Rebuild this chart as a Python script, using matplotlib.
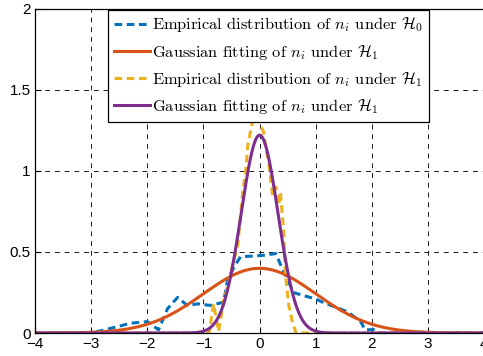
import numpy as np
import matplotlib
matplotlib.use("Agg")
import matplotlib.pyplot as plt

plt.rcParams['mathtext.fontset'] = 'cm'
plt.rcParams['font.family'] = ['Liberation Sans', 'DejaVu Sans']

# empirical distribution of n_i under H0
h0_x = [-4, -3.0, -2.75, -2.3, -2.0, -1.8, -1.64, -1.46, -1.29, -1.1, -0.88, -0.64,
        -0.57, -0.45, -0.34, -0.1, 0.1, 0.29, 0.375, 0.5, 0.6, 0.79, 1.0, 1.12,
        1.35, 1.57, 1.8, 1.88, 2.04, 2.15, 4]
h0_y = [0, 0, 0.02, 0.06, 0.07, 0.02, 0.15, 0.22, 0.17, 0.18, 0.17, 0.19,
        0.33, 0.41, 0.47, 0.475, 0.48, 0.49, 0.42, 0.33, 0.25, 0.23, 0.21, 0.19,
        0.16, 0.13, 0.07, 0.02, 0.02, 0, 0]

# empirical distribution of n_i under H1
h1_x = [-4, -0.9, -0.82, -0.73, -0.64, -0.55, -0.48, -0.39, -0.3, -0.25, -0.21,
        -0.13, -0.05, 0.07, 0.11, 0.16, 0.23, 0.29, 0.34, 0.37, 0.43, 0.46, 0.52,
        0.59, 0.65, 4]
h1_y = [0, 0, 0.18, 0.01, 0.2, 0.31, 0.42, 0.54, 0.87, 0.99, 1.16,
        1.30, 1.34, 1.24, 1.14, 1.06, 0.85, 0.9, 0.79, 0.87, 0.62, 0.36, 0.17,
        0.06, 0, 0]

# Gaussian fit parameters (mean, std)
fit_wide = (0.0, 1.0)
fit_narrow = (0.0, 0.327)

labels = [r'Empirical distribution of $n_i$ under $\mathcal{H}_0$',
          r'Gaussian fitting of $n_i$ under $\mathcal{H}_1$',
          r'Empirical distribution of $n_i$ under $\mathcal{H}_1$',
          r'Gaussian fitting of $n_i$ under $\mathcal{H}_1$']


def gauss(x, mu, sd):
    return np.exp(-0.5 * ((x - mu) / sd) ** 2) / (sd * np.sqrt(2 * np.pi))


xs = np.linspace(-4, 4, 801)

fig = plt.figure(figsize=(4.83, 3.56), dpi=100)
ax = fig.add_axes([0.0725, 0.0646, 0.93, 0.911])

lw = 2.2
ax.plot(h0_x, h0_y, color='#0072BD', lw=lw, ls=(0, (2.5, 1.5)), label=labels[0])
ax.plot(xs, gauss(xs, *fit_wide), color='#D95319', lw=lw, label=labels[1])
ax.plot(h1_x, h1_y, color='#EDB120', lw=lw, ls=(0, (2.5, 1.5)), label=labels[2])
ax.plot(xs, gauss(xs, *fit_narrow), color='#7E2F8E', lw=lw, label=labels[3])

ax.set_xlim(-4, 4)
ax.set_ylim(0, 2)
ax.set_xticks(range(-4, 5))
ax.set_yticks([0, 0.5, 1, 1.5, 2])
ax.set_yticklabels(['0', '0.5', '1', '1.5', '2'])
ax.grid(True, color='0.1', ls=(0, (5, 5)), lw=0.7)
ax.tick_params(direction='in', labelsize=11, length=4, width=0.8, pad=3,
               top=False, right=False)
for s in ax.spines.values():
    s.set_linewidth(0.9)

leg = ax.legend(loc='upper left', bbox_to_anchor=(0.163, 0.997), borderaxespad=0,
                prop={'family': 'cmr10', 'size': 11.8}, handlelength=2.2,
                handletextpad=0.1, labelspacing=0.5, borderpad=0.35,
                fancybox=False, framealpha=1, edgecolor='black')
leg.get_frame().set_linewidth(0.9)

fig.savefig('out.png', dpi=100)
